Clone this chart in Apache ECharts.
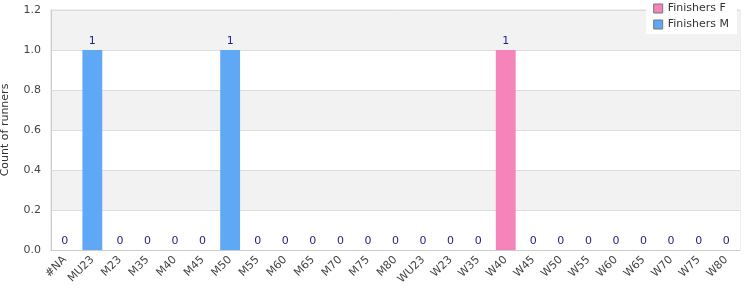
<!DOCTYPE html>
<html><head><meta charset="utf-8">
<script src="https://cdn.jsdelivr.net/npm/echarts@6/dist/echarts.min.js"></script>
<style>html,body{margin:0;padding:0;background:#fff}#c{width:750px;height:300px}</style>
</head><body><div id="c"></div>
<script>
const categories = ['#NA','MU23','M23','M35','M40','M45','M50','M55','M60','M65','M70','M75','M80','WU23','W23','W35','W40','W45','W50','W55','W60','W65','W70','W75','W80'];
const finishersF = [0,0,0,0,0,0,0,0,0,0,0,0,0,0,0,0,1,0,0,0,0,0,0,0,0];
const finishersM = [0,1,0,0,0,0,1,0,0,0,0,0,0,0,0,0,0,0,0,0,0,0,0,0,0];
const yTicks = [0,0.2,0.4,0.6,0.8,1.0,1.2];
const totals = categories.map((c,i)=>finishersF[i]+finishersM[i]);
const FONT = 'DejaVu Sans';
const chart = echarts.init(document.getElementById('c'), null, {renderer:'canvas'});
chart.setOption({
  animation:false,
  textStyle:{fontFamily:FONT},
  grid:{left:51,right:10,top:10,bottom:50,containLabel:false,outerBoundsMode:'none',show:true,borderColor:'#dddddd',borderWidth:1},
  legend:{orient:'vertical',right:13,top:0,padding:[3,8,4,7],backgroundColor:'#ffffff',
    icon:'rect',itemWidth:9,itemHeight:9,itemGap:5,
    textStyle:{fontSize:11,color:'#333',fontFamily:FONT},
    data:[{name:'Finishers F',itemStyle:{borderColor:'#777',borderWidth:1}},{name:'Finishers M',itemStyle:{borderColor:'#777',borderWidth:1}}]},
  xAxis:{type:'category',data:categories,
    axisLine:{lineStyle:{color:'#cccccc'}},axisTick:{show:false},
    axisLabel:{rotate:45,fontSize:11,color:'#444',interval:0,fontFamily:FONT,margin:8}},
  yAxis:{type:'value',min:0,max:1.2,interval:0.2,
    name:'Count of runners',nameLocation:'middle',nameGap:40,nameRotate:90,
    nameTextStyle:{fontSize:11,color:'#333',fontFamily:FONT},
    axisLine:{show:true,lineStyle:{color:'#cccccc'}},
    axisLabel:{fontSize:11,color:'#444',fontFamily:FONT,margin:10,formatter:v=>v.toFixed(1)},
    splitLine:{lineStyle:{color:'#dddddd'}},
    splitArea:{show:true,areaStyle:{color:['#ffffff','#f2f2f2']}}},
  series:[
    {name:'Finishers F',type:'bar',data:finishersF,barWidth:'72%',barGap:'-100%',itemStyle:{color:'#f584ba'}},
    {name:'Finishers M',type:'bar',data:finishersM,barWidth:'72%',barGap:'-100%',itemStyle:{color:'#5fa8f5'}},
    {name:'total',type:'bar',data:totals,barWidth:'72%',barGap:'-100%',itemStyle:{color:'rgba(0,0,0,0)'},
      label:{show:true,position:'top',distance:3,fontSize:11,color:'#1f1f8c',fontFamily:FONT}}
  ]
});
</script></body></html>
